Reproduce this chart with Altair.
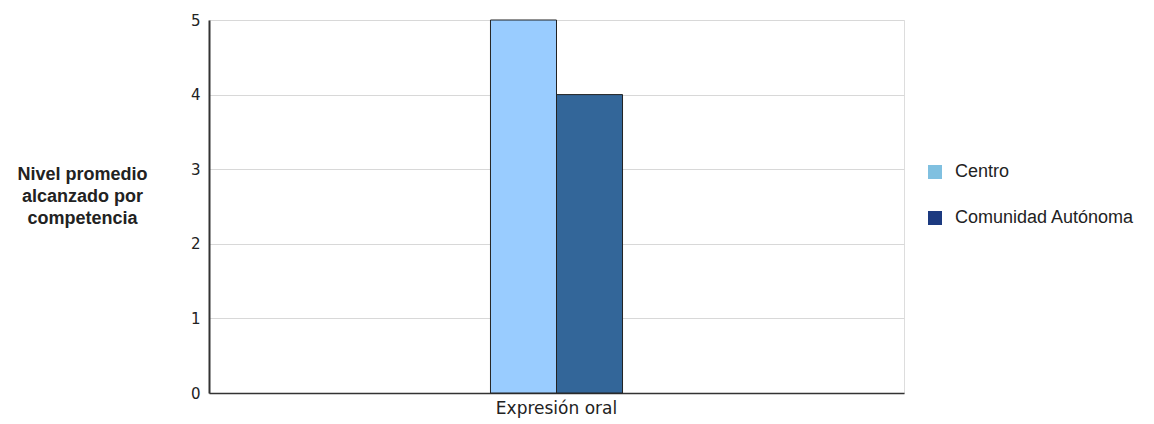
import altair as alt
import pandas as pd

categories = ["Expresión oral"]
series = ["Centro", "Comunidad Autónoma"]
values = [5, 4]
bar_colors = ["#99ccff", "#336699"]
legend_colors = ["#80c0e0", "#1c3a80"]

df = pd.DataFrame({
    "cat": [categories[0]] * len(series),
    "serie": series,
    "valor": values,
})

x_enc = alt.X(
    "cat:N",
    title=None,
    scale=alt.Scale(paddingInner=0.81, paddingOuter=0.405),
    axis=alt.Axis(
        labelAngle=0, ticks=False, domain=True, domainColor="#333333", domainWidth=1.5,
        labelFont="DejaVu Sans", labelFontSize=17, labelColor="#222222", labelPadding=7,
    ),
)
y_enc = alt.Y(
    "valor:Q",
    scale=alt.Scale(domain=[0, 5]),
    axis=alt.Axis(
        values=[0, 1, 2, 3, 4, 5], format="d", ticks=False, domain=True,
        domainColor="#333333", domainWidth=2,
        grid=True, gridColor="#d8d8d8", gridWidth=1,
        labelFont="DejaVu Sans", labelFontSize=15, labelColor="#222222", labelPadding=9,
        title=["Nivel promedio", "alcanzado por", "competencia"],
        titleAngle=0, titleFont="Liberation Sans", titleFontSize=18, titleFontWeight="bold",
        titleColor="#222222", titleAlign="center", titleBaseline="middle",
        titleX=-127, titleY=154, titleLineHeight=22,
    ),
)

bars = alt.Chart(df).mark_bar(stroke="#222222", strokeWidth=1).encode(
    x=x_enc,
    xOffset=alt.XOffset("serie:N", sort=series),
    y=y_enc,
    color=alt.Color("serie:N", sort=series,
                    scale=alt.Scale(domain=series, range=bar_colors), legend=None),
)

legend_layer = alt.Chart(df).mark_square(opacity=0, size=1).encode(
    x=alt.X("cat:N"),
    y=alt.Y("valor:Q"),
    color=alt.Color(
        "serie:N", sort=series,
        scale=alt.Scale(domain=series, range=legend_colors),
        legend=alt.Legend(
            title=None, orient="none", legendX=717, legendY=143,
            symbolType="square", symbolSize=196, symbolOpacity=1, symbolStrokeWidth=0,
            labelFont="Liberation Sans", labelFontSize=18, labelColor="#222222",
            labelOffset=11, rowPadding=28, labelLimit=400,
        ),
    ),
)

chart = alt.layer(bars, legend_layer).resolve_scale(color="independent").properties(
    width=695, height=373, padding={"left": 8, "top": 5, "right": 5, "bottom": 5},
).configure_view(stroke="#cccccc", strokeWidth=1).configure(background="white")

chart.save("out.html", embed_options={"renderer": "svg", "actions": False})
